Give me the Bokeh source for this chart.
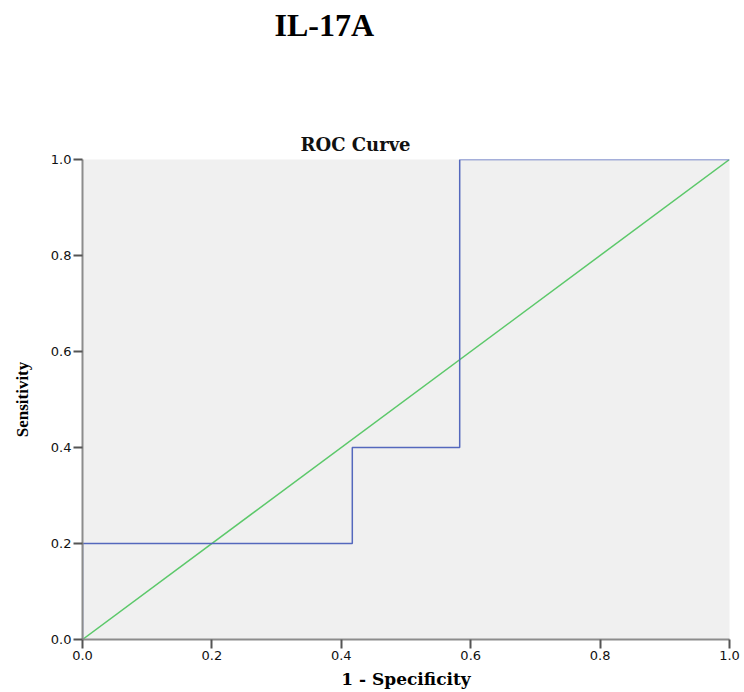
from bokeh.plotting import figure
from bokeh.models import Range1d, FixedTicker, Title
from bokeh.embed import file_html
from bokeh.resources import INLINE

# ROC step curve for IL-17A
fpr = [0.0, 0.0, 0.417, 0.417, 0.583, 0.583, 1.0]
tpr = [0.0, 0.2, 0.2, 0.4, 0.4, 1.0, 1.0]
# reference (chance) line
ref_x = [0.0, 1.0]
ref_y = [0.0, 1.0]
ticks = [0.0, 0.2, 0.4, 0.6, 0.8, 1.0]
heading = "IL-17A"
chart_title = "ROC Curve"

p = figure(width=744, height=692, output_backend="svg", toolbar_location=None,
           x_range=Range1d(0, 1), y_range=Range1d(0, 1),
           min_border_left=82, min_border_right=15, min_border_top=10,
           min_border_bottom=53)

p.background_fill_color = "#f0f0f0"
p.border_fill_color = "white"
p.outline_line_color = None
p.grid.visible = False

# outermost panel: page heading
p.title.text = heading
p.title.text_font = "Liberation Serif"
p.title.text_font_style = "bold"
p.title.text_font_size = "32px"
p.title.text_color = "black"
p.title.align = "left"
p.title.offset = 192
p.title.standoff = 8

# chart title next to the frame
p.add_layout(Title(text=chart_title, text_font="DejaVu Serif", text_font_style="bold",
                   text_font_size="18px", text_color="#111111", align="left",
                   offset=218, standoff=10), "above")

# blank spacer between chart title and heading
p.add_layout(Title(text=" ", text_font_size="10px", standoff=67), "above")

for ax in (p.xaxis, p.yaxis):
    ax.ticker = FixedTicker(ticks=ticks)
    ax.major_label_overrides = {t: f"{t:.1f}" for t in ticks}
    ax.axis_line_color = "#8c8c8c"
    ax.axis_line_width = 2
    ax.major_tick_line_color = "#555555"
    ax.major_tick_line_width = 2
    ax.major_tick_out = 9
    ax.major_tick_in = 0
    ax.minor_tick_line_color = None
    ax.major_label_text_font = "DejaVu Sans"
    ax.major_label_text_font_size = "13px"
    ax.major_label_text_color = "#111111"
    ax.axis_label_text_font_style = "bold"
    ax.axis_label_text_color = "black"

p.xaxis.axis_label = "1 - Specificity"
p.xaxis.axis_label_text_font = "DejaVu Serif"
p.xaxis.axis_label_text_font_size = "17px"
p.yaxis.axis_label = "Sensitivity"
p.yaxis.axis_label_text_font = "Liberation Serif"
p.yaxis.axis_label_text_font_size = "17px"
p.xaxis.major_label_standoff = 2
p.yaxis.major_label_standoff = 2
p.xaxis.axis_label_standoff = 6
p.yaxis.axis_label_standoff = 16
p.yaxis.major_label_orientation = "horizontal"

p.line(ref_x, ref_y, line_color="#5cc86a", line_width=1.5)
p.line(fpr, tpr, line_color="#5468bd", line_width=1.5)

open("out.html", "w").write(file_html(p, INLINE))
